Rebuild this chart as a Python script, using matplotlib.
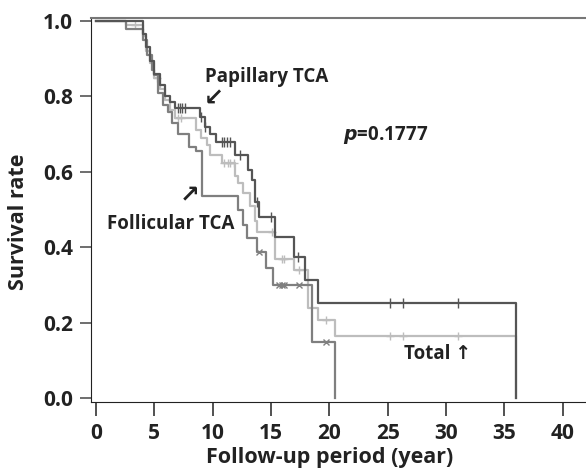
import numpy as np
import matplotlib.pyplot as plt

plt.rcParams['font.family'] = ['Open Sans', 'DejaVu Sans']
plt.rcParams['font.weight'] = 'bold'

# Kaplan-Meier steps (time in years, survival after step)
pap_t = [0, 4.0, 4.3, 4.6, 5.0, 5.45, 5.9, 6.3, 6.75, 8.9, 9.3, 9.75, 10.3, 11.9,
         13.0, 13.35, 13.6, 14.0, 15.3, 17.0, 17.9, 19.0, 36.0]
pap_s = [1.0, 0.965, 0.93, 0.895, 0.86, 0.83, 0.80, 0.785, 0.77, 0.745, 0.72, 0.70,
         0.68, 0.645, 0.605, 0.578, 0.52, 0.48, 0.427, 0.374, 0.313, 0.252, 0.0]
pap_cens = [7.0, 7.2, 7.4, 7.6, 9.0, 9.3, 10.8, 11.0, 11.2, 11.5, 12.3, 13.8, 15.0,
            17.3, 25.2, 26.3, 31.0]

tot_t = [0, 2.6, 4.0, 4.3, 4.6, 5.0, 5.5, 5.9, 6.3, 6.8, 8.6, 9.0, 9.5, 9.75, 10.8,
         11.9, 12.2, 12.6, 13.2, 13.6, 13.8, 15.3, 17.0, 18.2, 19.0, 20.5, 36.0]
tot_s = [1.0, 0.99, 0.96, 0.92, 0.89, 0.85, 0.82, 0.79, 0.765, 0.743, 0.71, 0.69,
         0.67, 0.645, 0.623, 0.59, 0.57, 0.544, 0.51, 0.47, 0.44, 0.37, 0.34, 0.24,
         0.207, 0.165, 0.0]
tot_cens = [3.3, 5.2, 7.0, 7.3, 11.0, 11.3, 11.5, 11.8, 15.1, 15.9, 16.1, 17.4, 19.7,
            25.2, 26.3, 31.0]

fol_t = [0, 2.6, 4.0, 4.4, 4.8, 5.0, 5.3, 5.7, 6.2, 6.5, 7.0, 8.0, 8.6, 9.1, 12.15,
         12.6, 12.9, 13.8, 14.6, 15.15, 18.5, 20.5]
fol_s = [1.0, 0.98, 0.95, 0.91, 0.87, 0.857, 0.81, 0.777, 0.76, 0.73, 0.70, 0.666,
         0.655, 0.535, 0.50, 0.46, 0.424, 0.387, 0.345, 0.30, 0.15, 0.0]
fol_cens = [14.0, 15.7, 15.9, 16.1, 17.4, 19.7]

curves = [
    (tot_t, tot_s, tot_cens, '#bdbdbd', '+', 6),
    (fol_t, fol_s, fol_cens, '#7f7f7f', 'x', 4),
    (pap_t, pap_s, pap_cens, '#555555', '|', 7),
]

fig = plt.figure(figsize=(5.86, 4.74), dpi=100)
ax = fig.add_axes([0.155, 0.152, 0.845, 0.81])

for t, s, cens, col, mk, ms in curves:
    ax.step(t, s, where='post', color=col, lw=1.6)
    cy = [s[np.searchsorted(t, c, side='right') - 1] for c in cens]
    ax.plot(cens, cy, ls='none', marker=mk, color=col, ms=ms, mew=1.0)

ax.set_xlim(-0.45, 42)
ax.set_ylim(-0.01, 1.008)
ax.set_xticks(np.arange(0, 41, 5))
ax.set_yticks(np.arange(0, 1.01, 0.2))
ax.set_yticklabels(['%.1f' % v for v in np.arange(0, 1.01, 0.2)])
ax.tick_params(axis='x', length=10, width=1.2, color='#333333', labelsize=15,
               pad=5, labelcolor='#222222')
ax.tick_params(axis='y', length=8, width=1.2, color='#555555', labelsize=15,
               pad=5, labelcolor='#222222')
for lab in ax.get_xticklabels() + ax.get_yticklabels():
    lab.set_fontweight('bold')

ax.spines['right'].set_visible(False)
ax.spines['top'].set_color('#777777')
ax.spines['top'].set_linewidth(1.5)
ax.spines['left'].set_color('#222222')
ax.spines['bottom'].set_color('#222222')

ax.set_xlabel('Follow-up period (year)', fontsize=15.5, fontweight='bold',
              color='#222222')
ax.set_ylabel('Survival rate', fontsize=15.5, fontweight='bold', color='#222222')
ax.xaxis.set_label_coords(0.483, -0.118)
ax.yaxis.set_label_coords(-0.124, 0.47)

ax.text(9.3, 0.838, 'Papillary TCA', fontsize=13.5, fontweight='bold', color='#222222')
ax.text(9.2, 0.777, '\u2199', fontsize=17, fontweight='bold', color='#222222',
        family=['DejaVu Sans'])
ax.text(0.93, 0.448, 'Follicular TCA', fontsize=13.5, fontweight='bold', color='#222222')
ax.text(7.2, 0.52, '\u2197', fontsize=17, fontweight='bold', color='#222222',
        family=['DejaVu Sans'])
ax.text(21.2, 0.684, r'$\bf{\it{p}}$=0.1777', fontsize=13.5, fontweight='bold',
        color='#222222')
ax.text(26.4, 0.103, 'Total \u2191', fontsize=13.5, fontweight='bold', color='#222222')

fig.savefig('out.png', dpi=100)
